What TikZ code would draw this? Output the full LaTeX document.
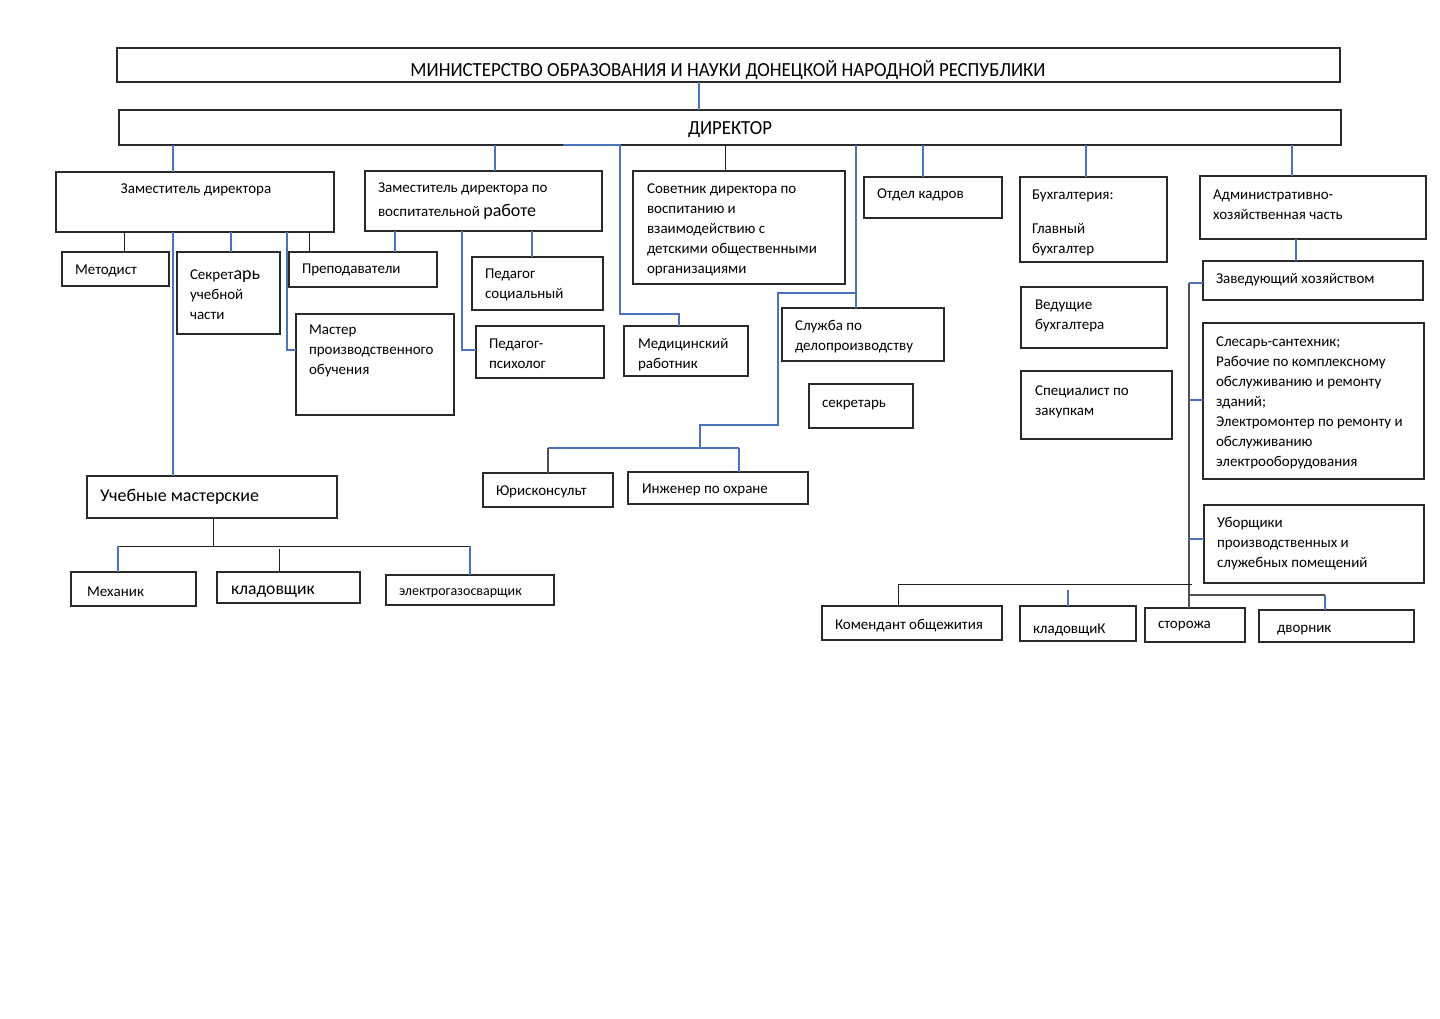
\documentclass[tikz,border=0pt]{standalone}
\usepackage{fontspec}
\setmainfont{Carlito}
\usepackage{graphicx}
\definecolor{boxc}{HTML}{2A2A2A}
\definecolor{lineblue}{HTML}{4A72BE}
\definecolor{lineblack}{HTML}{1F1F1F}
\definecolor{linegray}{HTML}{505050}
\tikzset{
  box/.style={draw=boxc, line width=0.55pt, inner sep=0pt, outer sep=0pt, anchor=north west},
  txt/.style={inner sep=0pt, outer sep=0pt, anchor=west, align=left, yshift=-1pt, font=\fontsize{7.5}{10}\selectfont},
  bl/.style={draw=lineblue, line width=0.55pt},
  bk/.style={draw=lineblack, line width=0.5pt},
  gy/.style={draw=linegray, line width=0.55pt},
}
\newcommand{\mybox}[5]{\pgfmathsetmacro\bxw{(#4-#2)*0.5}\pgfmathsetmacro\bxh{(#5-#3)*0.5}\node[box, minimum width=\bxw pt, minimum height=\bxh pt] (#1) at (#2,#3) {};}
\begin{document}
\begin{tikzpicture}[x=0.5pt, y=-0.5pt]
\useasboundingbox[fill=white] (0,0) rectangle (1440,1018);
% boxes
\mybox{min}{117}{48}{1340}{82}
\mybox{dir}{119}{110}{1341}{145}
\mybox{zam}{56}{172}{334}{232}
\mybox{zamv}{365}{171}{602}{231}
\mybox{sov}{633}{171}{845}{284}
\mybox{otd}{864}{177}{1002}{218}
\mybox{buh}{1020}{177}{1167}{262}
\mybox{ahc}{1200}{176}{1426}{239}
\mybox{met}{62}{252}{169}{286}
\mybox{sek}{177}{252}{280}{334}
\mybox{pre}{289}{252}{437}{287}
\mybox{mas}{296}{314}{454}{415}
\mybox{pso}{472}{257}{603}{310}
\mybox{pps}{476}{326}{604}{378}
\mybox{med}{624}{326}{748}{376}
\mybox{slu}{782}{308}{944}{361}
\mybox{sec}{809}{384}{913}{428}
\mybox{vbu}{1021}{287}{1167}{348}
\mybox{spz}{1021}{371}{1172}{439}
\mybox{zav}{1203}{261}{1423}{300}
\mybox{sle}{1203}{323}{1424}{479}
\mybox{ubo}{1204}{505}{1424}{583}
\mybox{ucm}{87}{476}{337}{518}
\mybox{mex}{71}{572}{196}{606}
\mybox{klA}{217}{572}{360}{603}
\mybox{elg}{386}{575}{554}{605}
\mybox{yur}{483}{473}{613}{507}
\mybox{inz}{628}{472}{808}{504}
\mybox{kom}{822}{606}{1002}{640}
\mybox{klB}{1020}{606}{1136}{641}
\mybox{sto}{1145}{608}{1245}{642}
\mybox{dvo}{1259}{610}{1414}{642}
% texts
\node[txt, anchor=center] (t-min) at (728,68) {\resizebox{317.5pt}{\height}{\fontsize{10}{12}\selectfont МИНИСТЕРСТВО ОБРАЗОВАНИЯ И НАУКИ ДОНЕЦКОЙ НАРОДНОЙ РЕСПУБЛИКИ}};
\node[txt, anchor=center] (t-dir) at (730,128) {\resizebox{42pt}{\height}{\fontsize{10}{12}\selectfont ДИРЕКТОР}};
\node[txt, anchor=center] (t-zam) at (196,188) {Заместитель директора};
\node[txt] (t-zamv) at (378,199) {Заместитель директора по\\[2pt]воспитательной {\fontsize{9}{10}\selectfont работе}};
\node[txt] (t-sov) at (647,227.5) {Советник директора по\\воспитанию и\\взаимодействию с\\детскими общественными\\организациями};
\node[txt] (t-otd) at (877,193) {Отдел кадров};
\node[txt] (t-buh) at (1032,220.5) {Бухгалтерия:\\[7pt]Главный\\бухгалтер};
\node[txt] (t-ahc) at (1213,202.5) {Административно-\\хозяйственная часть};
\node[txt] (t-met) at (75,269) {Методист};
\node[txt] (t-sek) at (190,293) {Секрет{\fontsize{9}{10}\selectfont арь}\\учебной\\части};
\node[txt] (t-pre) at (302,268) {Преподаватели};
\node[txt] (t-mas) at (309,349) {Мастер\\производственного\\обучения};
\node[txt] (t-pso) at (485,283) {Педагог\\социальный};
\node[txt] (t-pps) at (489,352) {Педагог-\\психолог};
\node[txt] (t-med) at (638,352.5) {Медицинский\\работник};
\node[txt] (t-slu) at (795,334.5) {Служба по\\делопроизводству};
\node[txt] (t-sec) at (822,403) {секретарь};
\node[txt] (t-vbu) at (1035,313.5) {Ведущие\\бухгалтера};
\node[txt] (t-spz) at (1035,399.5) {Специалист по\\закупкам};
\node[txt] (t-zav) at (1216,278) {Заведующий хозяйством};
\node[txt] (t-sle) at (1216,400.5) {Слесарь-сантехник;\\Рабочие по комплексному\\обслуживанию и ремонту\\зданий;\\Электромонтер по ремонту и\\обслуживанию\\электрооборудования};
\node[txt] (t-ubo) at (1217,542) {Уборщики\\производственных и\\служебных помещений};
\node[txt, font=\fontsize{9}{11}\selectfont] (t-ucm) at (100,495) {Учебные мастерские};
\node[txt] (t-mex) at (87,590) {Механик};
\node[txt, font=\fontsize{8.8}{11}\selectfont] (t-klA) at (231,590) {кладовщик};
\node[txt, font=\fontsize{7}{9}\selectfont] (t-elg) at (399,591) {электрогазосварщик};
\node[txt] (t-yur) at (496,490) {Юрисконсульт};
\node[txt] (t-inz) at (642,488) {Инженер по охране};
\node[txt] (t-kom) at (835,624) {Комендант общежития};
\node[txt] (t-klB) at (1033,628) {кладовщиК};
\node[txt] (t-sto) at (1158,624) {сторожа};
\node[txt] (t-dvo) at (1277,628) {дворник};
% connectors
\draw[bl] (699,0 |- min.south) -- (699,0 |- dir.north);
\draw[bl] (173,0 |- dir.south) -- (173,0 |- zam.north);
\draw[bl] (495,0 |- dir.south) -- (495,0 |- zamv.north);
\draw[bl] (563,0 |- dir.south) -- (620,0 |- dir.south) -- (620,314) -- (679,314) -- (679,0 |- med.north);
\draw[bk] (725,0 |- dir.south) -- (725,0 |- sov.north);
\draw[bl] (856,0 |- dir.south) -- (856,0 |- slu.north);
\coordinate (br) at (856,293);
\coordinate (jn) at (700,448);
\draw[bl] (br) -- (778,293) -- (778,425) -- (700,425) -- (jn);
\draw[bl] (548,448) -- (739,448);
\draw[gy] (548,448) -- (548,0 |- yur.north);
\draw[bl] (739,448) -- (739,0 |- inz.north);
\draw[bl] (923,0 |- dir.south) -- (923,0 |- otd.north);
\draw[bl] (1086,0 |- dir.south) -- (1086,0 |- buh.north);
\draw[bl] (1292,0 |- dir.south) -- (1292,0 |- ahc.north);
% left branch
\draw[bk] (124,0 |- zam.south) -- (124,0 |- met.north);
\draw[bl] (173,0 |- zam.south) -- (173,0 |- ucm.north);
\draw[bl] (231,0 |- zam.south) -- (231,0 |- sek.north);
\draw[bl] (287,0 |- zam.south) -- (287,350) -- (mas.west |- 0,350);
\draw[bk] (309,0 |- zam.south) -- (309,0 |- pre.north);
\draw[bl] (395,0 |- zamv.south) -- (395,0 |- pre.north);
\draw[bl] (462,0 |- zamv.south) -- (462,350) -- (pps.west |- 0,350);
\draw[bl] (532,0 |- zamv.south) -- (532,0 |- pso.north);
% workshops
\draw[bk] (213,0 |- ucm.south) -- (213,546);
\draw[bk] (118,546) -- (470,546);
\draw[bl] (118,546) -- (118,0 |- mex.north);
\draw[bk] (279,549) -- (279,0 |- klA.north);
\draw[bl] (470,546) -- (470,0 |- elg.north);
% right branch
\draw[bl] (1296,0 |- ahc.south) -- (1296,0 |- zav.north);
\draw[gy] (1189,283) -- (1189,0 |- sto.north);
\draw[bl] (1189,283) -- (zav.west |- 0,283);
\draw[bl] (1189,400) -- (sle.west |- 0,400);
\draw[bl] (1189,539) -- (ubo.west |- 0,539);
\draw[bk] (898,584) -- (1192,584);
\draw[bk] (898,584) -- (898,0 |- kom.north);
\coordinate (kt) at (1068,590);
\draw[bl] (kt) -- (1068,0 |- klB.north);
\draw[gy] (1189,595) -- (1325,595);
\draw[bl] (1325,595) -- (1325,0 |- dvo.north);
\end{tikzpicture}
\end{document}
